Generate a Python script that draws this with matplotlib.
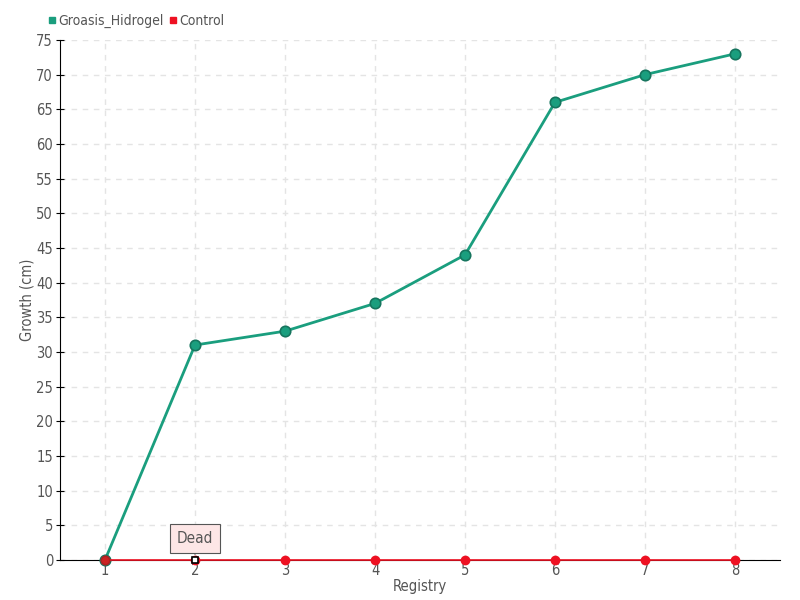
import matplotlib
matplotlib.use("Agg")
import matplotlib.pyplot as plt
from matplotlib.lines import Line2D

registry = [1, 2, 3, 4, 5, 6, 7, 8]
groasis = [0, 31, 33, 37, 44, 66, 70, 73]
control = [0, 0, 0, 0, 0, 0, 0, 0]
yticks = list(range(0, 80, 5))

green = "#1a9e7e"
green_dark = "#16755e"
red = "#ee1122"
txt = "#555555"

plt.rcParams['font.family'] = ['DejaVu Sans']
fig = plt.figure(figsize=(8, 6), dpi=100)
ax = fig.add_axes([0.075, 0.0667, 0.9, 0.8667])

ax.plot(registry, groasis, color=green, lw=2.0, marker='o', ms=7.5,
        mfc=green, mec=green_dark, mew=1.2, zorder=4, clip_on=False)
ax.plot(registry, control, color=red, lw=1.2, marker='o', ms=6,
        mfc=red, mec=red, zorder=5, clip_on=False)
# highlight dead point
ax.plot([registry[1]], [control[1]], marker='s', ms=5, mfc='white',
        mec='black', mew=1.2, zorder=7, clip_on=False)
ax.plot([registry[0]], [control[0]], marker='o', ms=6, mfc='#cc2222',
        mec='#aa2222', zorder=6, clip_on=False)

ax.annotate("Dead", xy=(registry[1], control[1]), xytext=(0, 15.5),
            textcoords='offset points', ha='center', va='center',
            fontsize=11, color=txt, fontstretch='condensed',
            bbox=dict(boxstyle='square,pad=0.45', fc='#fde6e6', ec='#555555', lw=0.8),
            arrowprops=dict(arrowstyle='-', color='#555555', lw=0.8,
                            shrinkA=0, shrinkB=4), zorder=8)

ax.set_xlim(0.5, 8.5)
ax.set_ylim(0, 75)
ax.set_xticks(registry)
ax.set_yticks(yticks)
ax.grid(True, color='#e4e4e4', ls=(0, (4, 4)), lw=1)
ax.set_axisbelow(True)
for s in ['top', 'right']:
    ax.spines[s].set_visible(False)
ax.spines['left'].set_color('black')
ax.spines['bottom'].set_color('black')
ax.tick_params(axis='y', direction='inout', length=6, colors='black',
               labelcolor=txt, labelsize=10.5, pad=2)
ax.tick_params(axis='x', direction='inout', length=6, colors='black',
               labelcolor=txt, labelsize=10.5, pad=-1)
for lab in ax.get_xticklabels() + ax.get_yticklabels():
    lab.set_fontstretch('condensed')
    lab.set_fontweight('light')

ax.set_xlabel("Registry", color=txt, fontsize=10.5, labelpad=1, fontstretch='condensed')
ax.set_ylabel("Growth (cm)", color=txt, fontsize=10.5, labelpad=1, fontstretch='condensed')

handles = [Line2D([], [], ls='none', marker='s', ms=4.5, mfc=green, mec=green),
           Line2D([], [], ls='none', marker='s', ms=4.5, mfc=red, mec=red)]
leg = fig.legend(handles, ["Groasis_Hidrogel", "Control"], loc='upper left',
                 bbox_to_anchor=(0.044, 0.998), ncol=2, frameon=False,
                 handlelength=0.6, handletextpad=0.15, columnspacing=0.4,
                 fontsize=10)
for t in leg.get_texts():
    t.set_color(txt)
    t.set_fontstretch('condensed')

fig.savefig("out.png", dpi=100)
